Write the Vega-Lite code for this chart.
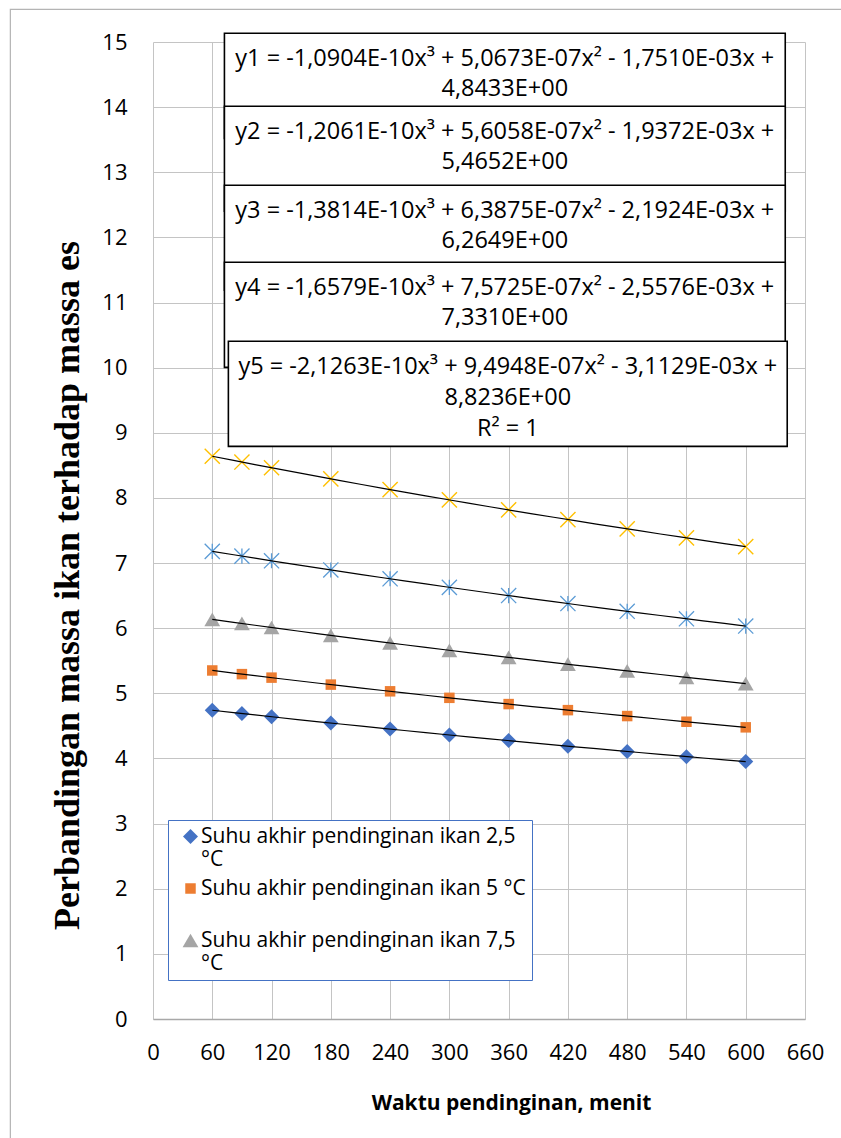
{
  "$schema": "https://vega.github.io/schema/vega-lite/v6.json",
  "width": 652,
  "height": 977,
  "autosize": {"type": "none"},
  "padding": {"left": 153, "top": 42, "right": 36, "bottom": 119},
  "background": "white",
  "config": {"view": {"stroke": null}, "font": "Open Sans"},
  "datasets": {
    "d": [
      {"t": 60, "r": 4.740, "s": "Suhu akhir pendinginan ikan 2,5 °C"},
      {"t": 90, "r": 4.690, "s": "Suhu akhir pendinginan ikan 2,5 °C"},
      {"t": 120, "r": 4.640, "s": "Suhu akhir pendinginan ikan 2,5 °C"},
      {"t": 180, "r": 4.544, "s": "Suhu akhir pendinginan ikan 2,5 °C"},
      {"t": 240, "r": 4.451, "s": "Suhu akhir pendinginan ikan 2,5 °C"},
      {"t": 300, "r": 4.361, "s": "Suhu akhir pendinginan ikan 2,5 °C"},
      {"t": 360, "r": 4.274, "s": "Suhu akhir pendinginan ikan 2,5 °C"},
      {"t": 420, "r": 4.189, "s": "Suhu akhir pendinginan ikan 2,5 °C"},
      {"t": 480, "r": 4.108, "s": "Suhu akhir pendinginan ikan 2,5 °C"},
      {"t": 540, "r": 4.028, "s": "Suhu akhir pendinginan ikan 2,5 °C"},
      {"t": 600, "r": 3.952, "s": "Suhu akhir pendinginan ikan 2,5 °C"},
      {"t": 60, "r": 5.351, "s": "Suhu akhir pendinginan ikan 5 °C"},
      {"t": 90, "r": 5.295, "s": "Suhu akhir pendinginan ikan 5 °C"},
      {"t": 120, "r": 5.241, "s": "Suhu akhir pendinginan ikan 5 °C"},
      {"t": 180, "r": 5.134, "s": "Suhu akhir pendinginan ikan 5 °C"},
      {"t": 240, "r": 5.031, "s": "Suhu akhir pendinginan ikan 5 °C"},
      {"t": 300, "r": 4.931, "s": "Suhu akhir pendinginan ikan 5 °C"},
      {"t": 360, "r": 4.835, "s": "Suhu akhir pendinginan ikan 5 °C"},
      {"t": 420, "r": 4.742, "s": "Suhu akhir pendinginan ikan 5 °C"},
      {"t": 480, "r": 4.651, "s": "Suhu akhir pendinginan ikan 5 °C"},
      {"t": 540, "r": 4.564, "s": "Suhu akhir pendinginan ikan 5 °C"},
      {"t": 600, "r": 4.478, "s": "Suhu akhir pendinginan ikan 5 °C"},
      {"t": 60, "r": 6.136, "s": "Suhu akhir pendinginan ikan 7,5 °C"},
      {"t": 90, "r": 6.073, "s": "Suhu akhir pendinginan ikan 7,5 °C"},
      {"t": 120, "r": 6.011, "s": "Suhu akhir pendinginan ikan 7,5 °C"},
      {"t": 180, "r": 5.890, "s": "Suhu akhir pendinginan ikan 7,5 °C"},
      {"t": 240, "r": 5.774, "s": "Suhu akhir pendinginan ikan 7,5 °C"},
      {"t": 300, "r": 5.661, "s": "Suhu akhir pendinginan ikan 7,5 °C"},
      {"t": 360, "r": 5.552, "s": "Suhu akhir pendinginan ikan 7,5 °C"},
      {"t": 420, "r": 5.447, "s": "Suhu akhir pendinginan ikan 7,5 °C"},
      {"t": 480, "r": 5.344, "s": "Suhu akhir pendinginan ikan 7,5 °C"},
      {"t": 540, "r": 5.246, "s": "Suhu akhir pendinginan ikan 7,5 °C"},
      {"t": 600, "r": 5.150, "s": "Suhu akhir pendinginan ikan 7,5 °C"},
      {"t": 60, "r": 7.180, "s": "Suhu akhir pendinginan ikan 10 °C"},
      {"t": 90, "r": 7.107, "s": "Suhu akhir pendinginan ikan 10 °C"},
      {"t": 120, "r": 7.035, "s": "Suhu akhir pendinginan ikan 10 °C"},
      {"t": 180, "r": 6.894, "s": "Suhu akhir pendinginan ikan 10 °C"},
      {"t": 240, "r": 6.759, "s": "Suhu akhir pendinginan ikan 10 °C"},
      {"t": 300, "r": 6.627, "s": "Suhu akhir pendinginan ikan 10 °C"},
      {"t": 360, "r": 6.501, "s": "Suhu akhir pendinginan ikan 10 °C"},
      {"t": 420, "r": 6.378, "s": "Suhu akhir pendinginan ikan 10 °C"},
      {"t": 480, "r": 6.259, "s": "Suhu akhir pendinginan ikan 10 °C"},
      {"t": 540, "r": 6.145, "s": "Suhu akhir pendinginan ikan 10 °C"},
      {"t": 600, "r": 6.033, "s": "Suhu akhir pendinginan ikan 10 °C"},
      {"t": 60, "r": 8.640, "s": "Suhu akhir pendinginan ikan 12,5 °C"},
      {"t": 90, "r": 8.551, "s": "Suhu akhir pendinginan ikan 12,5 °C"},
      {"t": 120, "r": 8.463, "s": "Suhu akhir pendinginan ikan 12,5 °C"},
      {"t": 180, "r": 8.293, "s": "Suhu akhir pendinginan ikan 12,5 °C"},
      {"t": 240, "r": 8.128, "s": "Suhu akhir pendinginan ikan 12,5 °C"},
      {"t": 300, "r": 7.969, "s": "Suhu akhir pendinginan ikan 12,5 °C"},
      {"t": 360, "r": 7.816, "s": "Suhu akhir pendinginan ikan 12,5 °C"},
      {"t": 420, "r": 7.668, "s": "Suhu akhir pendinginan ikan 12,5 °C"},
      {"t": 480, "r": 7.525, "s": "Suhu akhir pendinginan ikan 12,5 °C"},
      {"t": 540, "r": 7.386, "s": "Suhu akhir pendinginan ikan 12,5 °C"},
      {"t": 600, "r": 7.252, "s": "Suhu akhir pendinginan ikan 12,5 °C"}
    ]
  },
  "data": {"name": "d"},
  "layer": [
    {
      "data": {"values": [{}]},
      "mark": {"type": "rect", "fill": "transparent", "stroke": "#B4B4B4", "strokeWidth": 1.2},
      "encoding": {
        "x": {"datum": -144.4, "type": "quantitative"},
        "x2": {"datum": 720},
        "y": {"datum": 15.5, "type": "quantitative"},
        "y2": {"datum": -3}
      }
    },
    {
      "transform": [{"filter": {"field": "s", "oneOf": ["Suhu akhir pendinginan ikan 2,5 °C", "Suhu akhir pendinginan ikan 5 °C", "Suhu akhir pendinginan ikan 7,5 °C"]}}],
      "mark": {"type": "point", "filled": true, "opacity": 1, "strokeWidth": 0},
      "encoding": {
        "x": {
          "field": "t", "type": "quantitative",
          "scale": {"domain": [0, 660], "nice": false, "zero": false},
          "axis": {
            "values": [0, 60, 120, 180, 240, 300, 360, 420, 480, 540, 600, 660],
            "format": "d",
            "title": "Waktu pendinginan, menit",
            "titleFont": "Open Sans", "titleFontSize": 21, "titleFontWeight": "bold", "titleColor": "black",
            "titleX": 358, "titleY": 84, "titleBaseline": "middle", "titleAlign": "center",
            "labelFont": "Open Sans", "labelFontSize": 22, "labelColor": "black", "labelPadding": 23,
            "labelFlush": false, "labelOverlap": false,
            "ticks": false, "grid": true, "gridColor": "#C4C4C4", "gridWidth": 1,
            "domain": true, "domainColor": "#A8A8A8", "domainWidth": 1.3
          }
        },
        "y": {
          "field": "r", "type": "quantitative",
          "scale": {"domain": [0, 15], "nice": false, "zero": false},
          "axis": {
            "values": [0, 1, 2, 3, 4, 5, 6, 7, 8, 9, 10, 11, 12, 13, 14, 15],
            "format": "d",
            "title": "Perbandingan massa ikan terhadap massa es",
            "titleFont": "Liberation Serif", "titleFontSize": 36, "titleFontWeight": "bold", "titleColor": "black",
            "titleX": -86, "titleY": 543, "titleAngle": 270, "titleBaseline": "middle", "titleAlign": "center",
            "labelFont": "Open Sans", "labelFontSize": 22, "labelColor": "black", "labelPadding": 26,
            "labelOverlap": false, "labelFlush": false,
            "ticks": false, "grid": true, "gridColor": "#C4C4C4", "gridWidth": 1, "domain": false
          }
        },
        "color": {
          "field": "s", "type": "nominal",
          "scale": {"domain": ["Suhu akhir pendinginan ikan 2,5 °C", "Suhu akhir pendinginan ikan 5 °C", "Suhu akhir pendinginan ikan 7,5 °C"], "range": ["#4472C4", "#ED7D31", "#A5A5A5"]},
          "legend": {
            "orient": "none", "legendX": 15, "legendY": 778, "title": null,
            "labelFont": "Open Sans", "labelFontSize": 21, "labelColor": "black", "labelLimit": 600,
            "labelBaseline": "middle", "labelOffset": 0,
            "labelExpr": "datum.label == 'Suhu akhir pendinginan ikan 5 °C' ? [datum.label, ''] : [replace(datum.label, ' °C', ''), '°C']",
            "symbolSize": 160, "symbolOffset": 6, "symbolStrokeWidth": 0,
            "padding": 6, "rowPadding": 7,
            "strokeColor": "#4472C4", "fillColor": "white"
          }
        },
        "shape": {
          "field": "s", "type": "nominal",
          "scale": {"domain": ["Suhu akhir pendinginan ikan 2,5 °C", "Suhu akhir pendinginan ikan 5 °C", "Suhu akhir pendinginan ikan 7,5 °C"], "range": ["diamond", "square", "triangle-up"]}
        },
        "size": {
          "field": "s", "type": "nominal", "legend": null,
          "scale": {"type": "ordinal", "domain": ["Suhu akhir pendinginan ikan 2,5 °C", "Suhu akhir pendinginan ikan 5 °C", "Suhu akhir pendinginan ikan 7,5 °C"], "range": [225, 110, 250]}
        }
      }
    },
    {
      "transform": [{"filter": {"field": "s", "equal": "Suhu akhir pendinginan ikan 10 °C"}}],
      "mark": {"type": "point", "filled": false, "shape": "M-1,-1L1,1M-1,1L1,-1M0,-1L0,1", "size": 230, "stroke": "#5B9BD5", "strokeWidth": 1.3, "opacity": 1},
      "encoding": {
        "x": {"field": "t", "type": "quantitative"},
        "y": {"field": "r", "type": "quantitative"}
      }
    },
    {
      "transform": [{"filter": {"field": "s", "equal": "Suhu akhir pendinginan ikan 12,5 °C"}}],
      "mark": {"type": "point", "filled": false, "shape": "M-1,-1L1,1M-1,1L1,-1", "size": 230, "stroke": "#FFC000", "strokeWidth": 1.4, "opacity": 1},
      "encoding": {
        "x": {"field": "t", "type": "quantitative"},
        "y": {"field": "r", "type": "quantitative"}
      }
    },
    {
      "transform": [{"regression": "r", "on": "t", "groupby": ["s"], "method": "poly", "order": 3}],
      "mark": {"type": "line", "color": "black", "strokeWidth": 1.2},
      "encoding": {
        "x": {"field": "t", "type": "quantitative"},
        "y": {"field": "r", "type": "quantitative"},
        "detail": {"field": "s", "type": "nominal"}
      }
    },
    {
      "data": {"values": [{}]},
      "mark": {"type": "rect", "fill": "white", "stroke": "black", "strokeWidth": 1.6},
      "encoding": {"x": {"datum": 72.3, "type": "quantitative"}, "x2": {"datum": 640.0}, "y": {"datum": 15.134, "type": "quantitative"}, "y2": {"datum": 13.521}}
    },
    {
      "data": {"values": [{}]},
      "mark": {"type": "text", "text": ["y1 = -1,0904E-10x³ + 5,0673E-07x² - 1,7510E-03x +", "4,8433E+00"], "font": "Open Sans", "fontSize": 23.5, "lineHeight": 30, "baseline": "top", "align": "center", "color": "black"},
      "encoding": {"x": {"datum": 356.1, "type": "quantitative"}, "y": {"datum": 14.93, "type": "quantitative"}}
    },
    {
      "data": {"values": [{}]},
      "mark": {"type": "rect", "fill": "white", "stroke": "black", "strokeWidth": 1.6},
      "encoding": {"x": {"datum": 72.3, "type": "quantitative"}, "x2": {"datum": 640.0}, "y": {"datum": 14.013, "type": "quantitative"}, "y2": {"datum": 12.401}}
    },
    {
      "data": {"values": [{}]},
      "mark": {"type": "text", "text": ["y2 = -1,2061E-10x³ + 5,6058E-07x² - 1,9372E-03x +", "5,4652E+00"], "font": "Open Sans", "fontSize": 23.5, "lineHeight": 30, "baseline": "top", "align": "center", "color": "black"},
      "encoding": {"x": {"datum": 356.1, "type": "quantitative"}, "y": {"datum": 13.798, "type": "quantitative"}}
    },
    {
      "data": {"values": [{}]},
      "mark": {"type": "rect", "fill": "white", "stroke": "black", "strokeWidth": 1.6},
      "encoding": {"x": {"datum": 72.3, "type": "quantitative"}, "x2": {"datum": 640.0}, "y": {"datum": 12.800, "type": "quantitative"}, "y2": {"datum": 11.188}}
    },
    {
      "data": {"values": [{}]},
      "mark": {"type": "text", "text": ["y3 = -1,3814E-10x³ + 6,3875E-07x² - 2,1924E-03x +", "6,2649E+00"], "font": "Open Sans", "fontSize": 23.5, "lineHeight": 30, "baseline": "top", "align": "center", "color": "black"},
      "encoding": {"x": {"datum": 356.1, "type": "quantitative"}, "y": {"datum": 12.585, "type": "quantitative"}}
    },
    {
      "data": {"values": [{}]},
      "mark": {"type": "rect", "fill": "white", "stroke": "black", "strokeWidth": 1.6},
      "encoding": {"x": {"datum": 72.3, "type": "quantitative"}, "x2": {"datum": 640.0}, "y": {"datum": 11.618, "type": "quantitative"}, "y2": {"datum": 10.005}}
    },
    {
      "data": {"values": [{}]},
      "mark": {"type": "text", "text": ["y4 = -1,6579E-10x³ + 7,5725E-07x² - 2,5576E-03x +", "7,3310E+00"], "font": "Open Sans", "fontSize": 23.5, "lineHeight": 30, "baseline": "top", "align": "center", "color": "black"},
      "encoding": {"x": {"datum": 356.1, "type": "quantitative"}, "y": {"datum": 11.403, "type": "quantitative"}}
    },
    {
      "data": {"values": [{}]},
      "mark": {"type": "rect", "fill": "white", "stroke": "black", "strokeWidth": 1.6},
      "encoding": {"x": {"datum": 76.3, "type": "quantitative"}, "x2": {"datum": 642.0}, "y": {"datum": 10.405, "type": "quantitative"}, "y2": {"datum": 8.792}}
    },
    {
      "data": {"values": [{}]},
      "mark": {"type": "text", "text": ["y5 = -2,1263E-10x³ + 9,4948E-07x² - 3,1129E-03x +", "8,8236E+00", "R² = 1"], "font": "Open Sans", "fontSize": 23.5, "lineHeight": 31, "baseline": "top", "align": "center", "color": "black"},
      "encoding": {"x": {"datum": 359.2, "type": "quantitative"}, "y": {"datum": 10.190, "type": "quantitative"}}
    }
  ]
}
